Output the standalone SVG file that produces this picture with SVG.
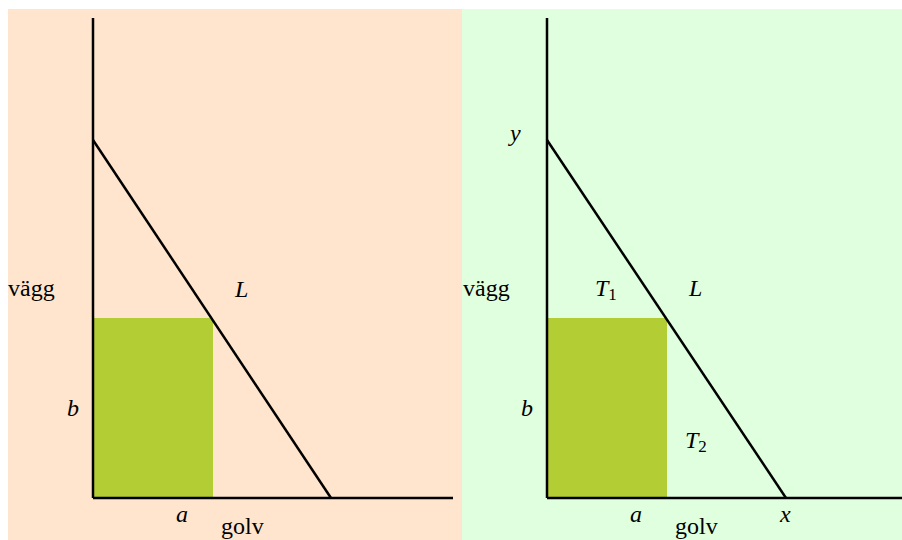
<svg xmlns="http://www.w3.org/2000/svg" width="902" height="540" viewBox="0 0 902 540">
<style>
.ax{stroke:#000;stroke-width:2.5;fill:none}
text{font-family:'Liberation Serif','Times New Roman',serif;font-size:24px;fill:#000}
.i{font-style:italic}
.s{font-size:17px;font-style:normal}
.box{fill:#b3cd35}
</style>
<rect x="8" y="9" width="454" height="531" fill="#ffe5cd"/>
<rect x="462" y="9" width="440" height="531" fill="#dfffdf"/>
<g id="left">
<rect id="box-left" class="box" x="93" y="318" width="120" height="180"/>
<g id="connectors-left">
<line class="ax" x1="93" y1="18" x2="93" y2="498"/>
<line class="ax" x1="93" y1="498" x2="453" y2="498"/>
<line class="ax" x1="93" y1="140" x2="331" y2="498"/>
</g>
<text x="8" y="296">vägg</text>
<text class="i" x="235" y="297">L</text>
<text class="i" x="67" y="416">b</text>
<text class="i" x="176" y="522">a</text>
<text x="221" y="534">golv</text>
</g>
<g id="right">
<rect id="box-right" class="box" x="547" y="318" width="120" height="180"/>
<g id="connectors-right">
<line class="ax" x1="547" y1="18" x2="547" y2="498"/>
<line class="ax" x1="547" y1="498" x2="902" y2="498"/>
<line class="ax" x1="547" y1="140" x2="786" y2="498"/>
</g>
<text class="i" x="510" y="141">y</text>
<text x="463" y="296">vägg</text>
<text class="i" x="595" y="296">T<tspan class="s" dy="4">1</tspan></text>
<text class="i" x="689" y="296">L</text>
<text class="i" x="521" y="416">b</text>
<text class="i" x="685" y="448">T<tspan class="s" dy="4">2</tspan></text>
<text class="i" x="630" y="522">a</text>
<text x="675" y="534">golv</text>
<text class="i" x="780" y="522">x</text>
</g>
</svg>
